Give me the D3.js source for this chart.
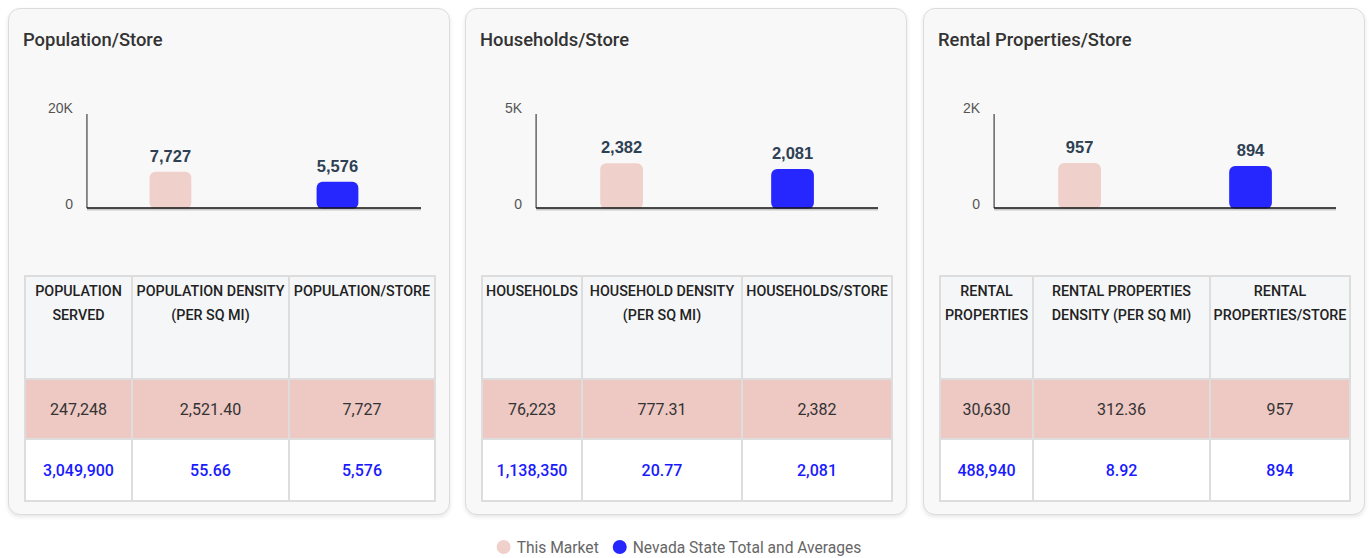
<!DOCTYPE html>
<html>
<head>
<meta charset="utf-8">
<script src="https://cdn.jsdelivr.net/npm/d3@7"></script>
<style>
  body { margin: 0; background: #fff; font-family: Roboto, "Liberation Sans", sans-serif; }
  #wrap { position: relative; width: 1369px; height: 558px; overflow: hidden; }
  .panel {
    position: absolute; top: 8px; width: 440px; height: 505px;
    background: #f8f8f8; border: 1px solid #dcdcdc; border-radius: 12px;
    box-shadow: 0 2px 4px rgba(0,0,0,0.10);
  }
  .panel svg { position: absolute; left: 0; top: 0; }
  table.stats {
    position: absolute; left: 15px; top: 266px; width: 410px;
    border-collapse: collapse; table-layout: fixed;
  }
  table.stats td, table.stats th { border: 2px solid #dddddd; text-align: center; }
  table.stats th {
    height: 99px; background: #f5f6f8; vertical-align: top;
    font-size: 14.3px; font-weight: 500; color: #222; line-height: 24px;
    padding: 2px 1px 0 1px;
  }
  table.stats td { height: 58px; font-size: 16px; padding: 0 2px; }
  table.stats tr.market td { background: #eec8c3; color: #333; }
  table.stats tr.state td { height: 60px; background: #fff; color: #1a1aff; font-weight: 500; }
</style>
</head>
<body>
<div id="wrap"></div>
<script>
// chart values
var panelTitles = ["Population/Store", "Households/Store", "Rental Properties/Store"];
var seriesNames = ["This Market", "Nevada State Total and Averages"];
var seriesColors = ["#f0d0cb", "#2626ff"];
var marketPerStore = [7727, 2382, 957];
var statePerStore = [5576, 2081, 894];
var axisMax = [20000, 5000, 2000];
var tickLabels = [["0", "20K"], ["0", "5K"], ["0", "2K"]];

// table values
var tableHeaders = [
    ["Population Served", "Population Density (per sq mi)", "Population/Store"],
    ["Households", "Household Density (per sq mi)", "Households/Store"],
    ["Rental Properties", "Rental Properties Density (per sq mi)", "Rental Properties/Store"]
];
var marketTotals = [247248, 76223, 30630];
var marketDensity = [2521.40, 777.31, 312.36];
var stateTotals = [3049900, 1138350, 488940];
var stateDensity = [55.66, 20.77, 8.92];

// layout
var panelLeft = [8, 465, 923];
var colWidths = [[107, 157, 146], [100, 160, 150], [93, 177, 140]];
var svgW = 442, svgH = 262;
var axisRight = 412, axisTop = 105, axisBottom = 199;

var fmtInt = d3.format(","), fmtDec = d3.format(",.2f");

var wrap = d3.select("#wrap");

panelTitles.forEach(function (title, i) {
    var panel = wrap.append("div")
        .attr("class", "panel")
        .style("left", panelLeft[i] + "px");

    var svg = panel.append("svg")
        .attr("width", svgW)
        .attr("height", svgH);

    // title
    svg.append("text")
        .attr("x", 14)
        .attr("y", 37)
        .style("font-family", "Roboto")
        .style("font-size", "18.4px")
        .style("font-weight", 500)
        .style("fill", "#333")
        .text(title);

    // tick labels first, to measure the left margin
    var tickG = svg.append("g");
    var topLabel = tickG.append("text")
        .attr("y", axisTop)
        .attr("dy", "-0.1em")
        .attr("text-anchor", "end")
        .style("font-family", "'Liberation Sans', Arial")
        .style("font-size", "14px")
        .style("fill", "#555")
        .text(tickLabels[i][1]);
    var labelW = topLabel.node().getComputedTextLength();
    var axisLeft = 39 + labelW + 14;
    topLabel.attr("x", axisLeft - 14);
    tickG.append("text")
        .attr("x", axisLeft - 14)
        .attr("y", axisBottom)
        .attr("dy", "0.05em")
        .attr("text-anchor", "end")
        .style("font-family", "'Liberation Sans', Arial")
        .style("font-size", "14px")
        .style("fill", "#555")
        .text(tickLabels[i][0]);

    var x = d3.scaleBand()
        .domain(seriesNames)
        .range([axisLeft, axisRight])
        .paddingInner(0.75)
        .paddingOuter(0.375);

    var y = d3.scaleLinear()
        .domain([0, axisMax[i]])
        .range([axisBottom, axisTop]);

    var vals = [marketPerStore[i], statePerStore[i]];
    var data = seriesNames.map(function (s, k) { return { name: s, value: vals[k], color: seriesColors[k] }; });

    // bars
    svg.selectAll(".bar")
        .data(data)
        .enter()
        .append("rect")
        .attr("class", "bar")
        .attr("x", function (d) { return x(d.name); })
        .attr("y", function (d) { return y(d.value); })
        .attr("width", x.bandwidth())
        .attr("height", function (d) { return y(0) - y(d.value) + 1; })
        .attr("rx", 6)
        .style("fill", function (d) { return d.color; });

    // value labels
    svg.selectAll(".val")
        .data(data)
        .enter()
        .append("text")
        .attr("class", "val")
        .attr("x", function (d) { return x(d.name) + x.bandwidth() / 2; })
        .attr("y", function (d) { return y(d.value) - 10; })
        .attr("text-anchor", "middle")
        .style("font-family", "'Liberation Sans', Arial")
        .style("font-size", "16.5px")
        .style("font-weight", "bold")
        .style("fill", "#2e4053")
        .text(function (d) { return fmtInt(d.value); });

    // axes lines
    svg.append("line")
        .attr("x1", axisLeft).attr("x2", axisLeft)
        .attr("y1", axisTop).attr("y2", axisBottom)
        .style("stroke", "#666").style("stroke-width", 1.5);
    svg.append("line")
        .attr("x1", axisLeft).attr("x2", axisRight)
        .attr("y1", axisBottom + 1.5).attr("y2", axisBottom + 1.5)
        .style("stroke", "#c8c8c8").style("stroke-width", 2);
    svg.append("line")
        .attr("x1", axisLeft).attr("x2", axisRight)
        .attr("y1", axisBottom).attr("y2", axisBottom)
        .style("stroke", "#111").style("stroke-width", 1.5);

    // table
    var table = panel.append("table").attr("class", "stats");
    table.append("colgroup").selectAll("col")
        .data(colWidths[i])
        .enter()
        .append("col")
        .style("width", function (d) { return d + "px"; });
    table.append("tr").selectAll("th")
        .data(tableHeaders[i])
        .enter()
        .append("th")
        .text(function (d) { return d.toUpperCase(); });
    table.append("tr").attr("class", "market").selectAll("td")
        .data([fmtInt(marketTotals[i]), fmtDec(marketDensity[i]), fmtInt(marketPerStore[i])])
        .enter()
        .append("td")
        .text(function (d) { return d; });
    table.append("tr").attr("class", "state").selectAll("td")
        .data([fmtInt(stateTotals[i]), fmtDec(stateDensity[i]), fmtInt(statePerStore[i])])
        .enter()
        .append("td")
        .text(function (d) { return d; });
});

// legend
var legend = wrap.append("svg")
    .style("position", "absolute")
    .style("left", "0px")
    .style("top", "530px")
    .attr("width", 1369)
    .attr("height", 28);

var items = legend.selectAll(".item")
    .data(seriesNames)
    .enter()
    .append("g")
    .attr("class", "item");

items.append("circle")
    .attr("r", 7)
    .attr("cy", 17)
    .style("fill", function (d, k) { return seriesColors[k]; });

items.append("text")
    .attr("x", 13)
    .attr("y", 22.5)
    .style("font-family", "Roboto")
    .style("font-size", "15.6px")
    .style("fill", "#666")
    .text(function (d) { return d; });

var widths = [];
items.each(function () { widths.push(this.getBBox().width); });
var gap = 14;
var total = d3.sum(widths) + gap * (widths.length - 1);
var cx = 679 - total / 2 + 7;
items.attr("transform", function (d, k) {
    var pos = cx + d3.sum(widths.slice(0, k)) + gap * k;
    return "translate(" + pos + ",0)";
});
</script>
</body>
</html>
